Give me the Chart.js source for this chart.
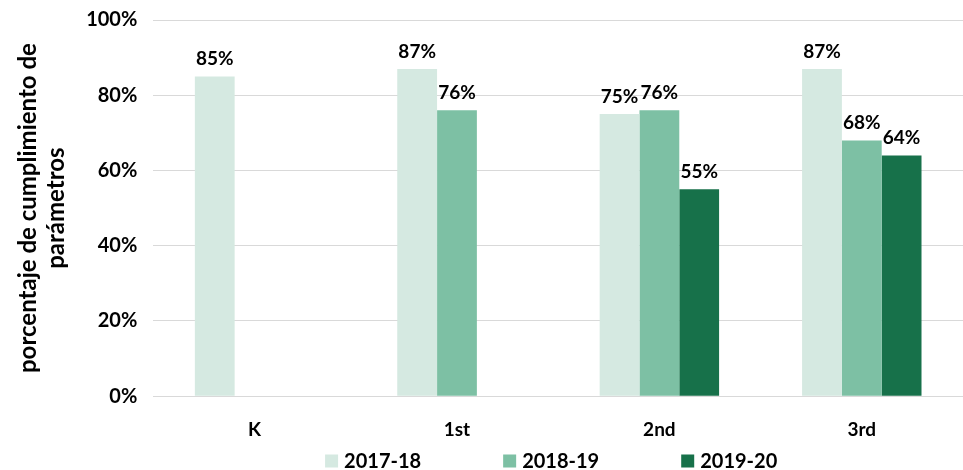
<!DOCTYPE html>
<html>
<head>
<meta charset="utf-8">
<script src="https://cdn.jsdelivr.net/npm/chart.js@4"></script>
<style>
  html, body { margin: 0; padding: 0; background: #fff; }
  #wrap { width: 963px; height: 470px; position: relative; }
</style>
</head>
<body>
<div id="wrap"><canvas id="myChart"></canvas></div>
<script>
const grades = ["K", "1st", "2nd", "3rd"];
const y2017 = [85, 87, 75, 87];
const y2018 = [null, 76, 76, 68];
const y2019 = [null, null, 55, 64];
const yTicks = [0, 20, 40, 60, 80, 100];

const COLORS = {
	light: 'rgb(213, 233, 225)',
	mid: 'rgb(125, 192, 164)',
	dark: 'rgb(23, 113, 74)'
};

const FONT = 'Lato';

// value labels above each bar
const barLabels = {
	id: 'barLabels',
	afterDatasetsDraw(chart) {
		const ctx = chart.ctx;
		ctx.save();
		ctx.font = 'bold 19px ' + FONT;
		ctx.fillStyle = '#000';
		ctx.textAlign = 'center';
		ctx.textBaseline = 'bottom';
		chart.data.datasets.forEach((ds, i) => {
			chart.getDatasetMeta(i).data.forEach((bar, j) => {
				if (ds.data[j] == null) return;
				ctx.fillText(ds.data[j] + '%', bar.x, bar.y - 8);
			});
		});
		ctx.restore();
	}
};

// legend drawn by hand so the items can sit far apart on one row
const wideLegend = {
	id: 'wideLegend',
	afterDraw(chart) {
		const ctx = chart.ctx;
		const area = chart.chartArea;
		const box = 13, gap = 6, spacing = 82;
		ctx.save();
		ctx.font = 'bold 20px ' + FONT;
		ctx.textBaseline = 'middle';
		let items = chart.data.datasets.map(ds => ({
			text: ds.label,
			color: ds.backgroundColor,
			w: box + gap + ctx.measureText(ds.label).width
		}));
		let total = items.reduce((s, it) => s + it.w, 0) + spacing * (items.length - 1);
		let x = (area.left + area.right) / 2 - total / 2 - 7;
		let y = chart.height - 9;
		items.forEach(it => {
			ctx.fillStyle = it.color;
			ctx.fillRect(x, y - box / 2, box, box);
			ctx.fillStyle = '#000';
			ctx.textAlign = 'left';
			ctx.fillText(it.text, x + box + gap, y + 1);
			x += it.w + spacing;
		});
		ctx.restore();
	}
};

const data = {
	labels: grades,
	datasets: [
		{ label: '2017-18', data: y2017, backgroundColor: COLORS.light },
		{ label: '2018-19', data: y2018, backgroundColor: COLORS.mid },
		{ label: '2019-20', data: y2019, backgroundColor: COLORS.dark }
	]
};

const config = {
	type: 'bar',
	data: data,
	options: {
		responsive: true,
		maintainAspectRatio: false,
		animation: false,
		layout: { padding: { top: 0, right: 0, left: 14, bottom: 15 } },
		datasets: { bar: { categoryPercentage: 0.59, barPercentage: 1.0, skipNull: false } },
		plugins: {
			legend: { display: false },
			tooltip: { enabled: false }
		},
		scales: {
			x: {
				grid: { display: false },
				border: { color: '#d9d9d9' },
				ticks: { font: { family: FONT, size: 19, weight: 'bold' }, color: '#000', padding: 14 }
			},
			y: {
				min: 0,
				max: 100,
				afterBuildTicks(axis) { axis.ticks = yTicks.map(v => ({ value: v })); },
				grid: { color: '#d9d9d9', drawTicks: false },
				border: { display: false },
				ticks: {
					font: { family: FONT, size: 20, weight: 'bold', lineHeight: 0.4 },
					color: '#000',
					padding: 16,
					callback: v => v + '%'
				},
				title: {
					display: true,
					text: ['porcentaje de cumplimiento de', 'parámetros'],
					font: { family: FONT, size: 24, weight: 'bold', lineHeight: 1.17 },
					color: '#000',
					padding: { top: 0, bottom: 0 }
				}
			}
		}
	},
	plugins: [barLabels, wideLegend]
};

const myChart = new Chart(document.getElementById('myChart'), config);
</script>
</body>
</html>
